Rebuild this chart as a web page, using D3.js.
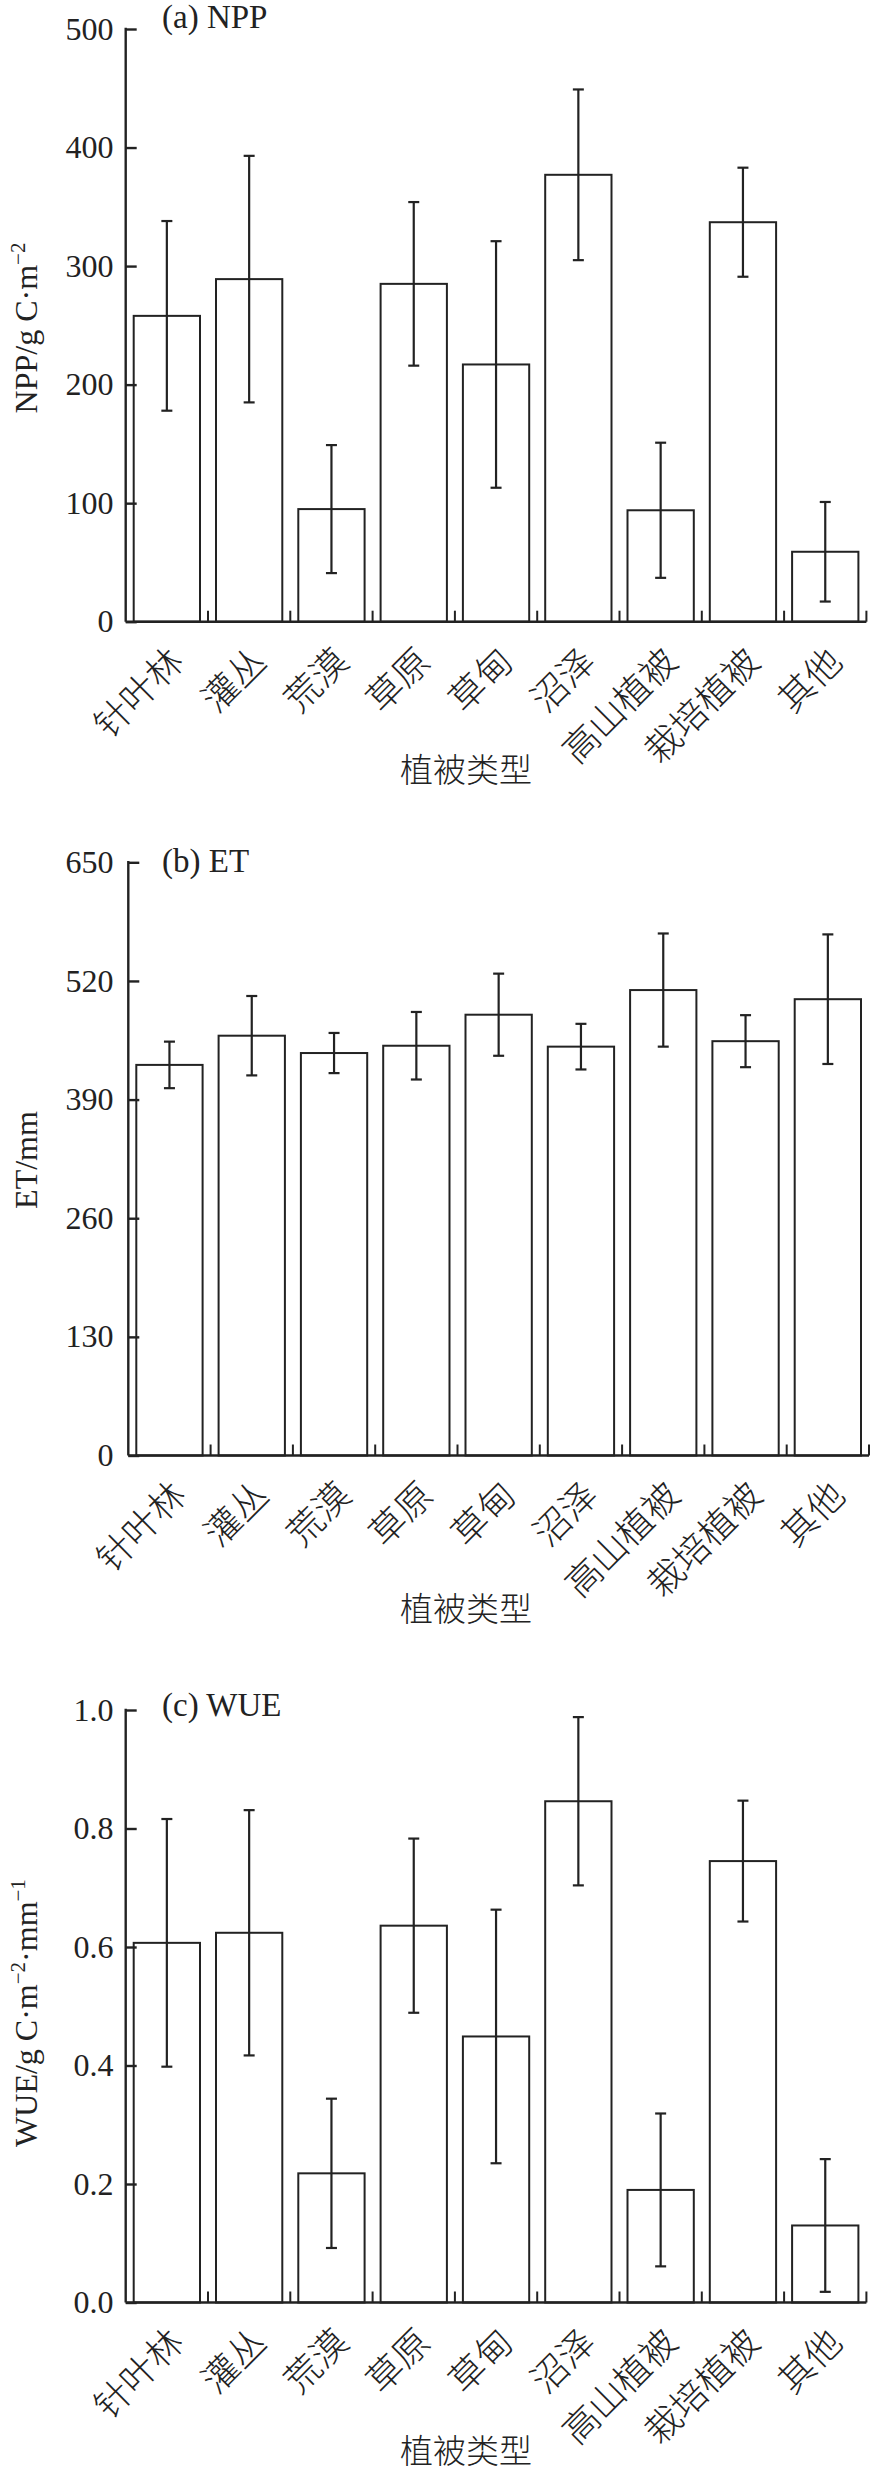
<!DOCTYPE html>
<html lang="zh">
<head>
<meta charset="UTF-8">
<title>植被类型 NPP ET WUE</title>
<script src="https://cdn.jsdelivr.net/npm/d3@7"></script>
<style>
  body { margin: 0; background: #fff; }
  text { font-family: "Liberation Serif", "Noto Sans CJK SC", serif; fill: #222; }
  .cjk { font-family: "Noto Sans CJK SC", sans-serif; font-weight: 300; }
</style>
</head>
<body>
<script>
// 植被类型
var categories = ['针叶林', '灌丛', '荒漠', '草原', '草甸', '沼泽', '高山植被', '栽培植被', '其他'];

// (a) NPP 均值和误差
var nppMean = [258, 289, 95, 285, 217, 377, 94, 337, 59];
var nppErr  = [80, 104, 54, 69, 104, 72, 57, 46, 42];
var nppTicks = [0, 100, 200, 300, 400, 500];

// (b) ET
var etMean = [428, 460, 441, 449, 483, 448, 510, 454, 500];
var etErr  = [25.5, 43.5, 22, 37, 45, 25, 62, 28.5, 71];
var etTicks = [0, 130, 260, 390, 520, 650];

// (c) WUE
var wueMean = [0.607, 0.624, 0.218, 0.636, 0.449, 0.846, 0.190, 0.745, 0.130];
var wueErr  = [0.209, 0.207, 0.126, 0.147, 0.214, 0.142, 0.129, 0.102, 0.112];
var wueTicks = [0, 0.2, 0.4, 0.6, 0.8, 1.0];

var width = 870, height = 2472;
var svg = d3.select('body').append('svg')
    .attr('width', width)
    .attr('height', height);

// 每个子图的位置
var panels = [
  {mean: nppMean, err: nppErr, ticks: nppTicks, max: 500, fmt: d3.format('d'),
   left: 125.7, top: 29, bottom: 621.7, title: '(a) NPP', titleY: 28,
   ylab: [['NPP/g C·m', 0], ['−2', 1]], ylabY: 328, xlabDy: 160},
  {mean: etMean, err: etErr, ticks: etTicks, max: 650, fmt: d3.format('d'),
   left: 128.3, top: 862.3, bottom: 1455.5, title: '(b) ET', titleY: 871.5,
   ylab: [['ET/mm', 0]], ylabY: 1160, xlabDy: 165},
  {mean: wueMean, err: wueErr, ticks: wueTicks, max: 1.0, fmt: d3.format('.1f'),
   left: 125.7, top: 1710, bottom: 2302.5, title: '(c) WUE', titleY: 1716,
   ylab: [['WUE/g C·m', 0], ['−2', 1], ['·mm', 0], ['−1', 1]], ylabY: 2013, xlabDy: 160}
];

var step = 82.3;
var barPad = 8;
var capW = 11;

panels.forEach(function (p) {
  var g = svg.append('g');

  var xScale = d3.scaleBand()
      .domain(categories)
      .range([p.left, p.left + step * categories.length]);
  var yScale = d3.scaleLinear()
      .domain([0, p.max])
      .range([p.bottom, p.top]);

  // 柱子
  g.selectAll('.bar')
      .data(categories)
      .enter()
      .append('rect')
      .attr('class', 'bar')
      .attr('x', function (d) { return xScale(d) + barPad; })
      .attr('y', function (d, i) { return yScale(p.mean[i]); })
      .attr('width', xScale.bandwidth() - 2 * barPad)
      .attr('height', function (d, i) { return p.bottom - yScale(p.mean[i]); })
      .attr('fill', '#fff')
      .attr('stroke', '#222')
      .attr('stroke-width', 2);

  // 误差线
  var eb = g.selectAll('.err')
      .data(categories)
      .enter()
      .append('g')
      .attr('class', 'err')
      .attr('stroke', '#222')
      .attr('stroke-width', 2.2);
  eb.append('line')
      .attr('x1', function (d) { return xScale(d) + xScale.bandwidth() / 2; })
      .attr('x2', function (d) { return xScale(d) + xScale.bandwidth() / 2; })
      .attr('y1', function (d, i) { return yScale(p.mean[i] + p.err[i]); })
      .attr('y2', function (d, i) { return yScale(p.mean[i] - p.err[i]); });
  [1, -1].forEach(function (s) {
    eb.append('line')
        .attr('x1', function (d) { return xScale(d) + xScale.bandwidth() / 2 - capW / 2; })
        .attr('x2', function (d) { return xScale(d) + xScale.bandwidth() / 2 + capW / 2; })
        .attr('y1', function (d, i) { return yScale(p.mean[i] + s * p.err[i]); })
        .attr('y2', function (d, i) { return yScale(p.mean[i] + s * p.err[i]); });
  });

  // Y轴：刻度向内
  var yAxis = d3.axisRight(yScale)
      .tickValues(p.ticks)
      .tickSize(11)
      .tickFormat('');
  var ya = g.append('g')
      .attr('transform', 'translate(' + p.left + ',0)')
      .call(yAxis);
  ya.select('.domain').remove();
  ya.selectAll('line').attr('stroke', '#222').attr('stroke-width', 2.4);
  g.append('line')
      .attr('x1', p.left).attr('x2', p.left)
      .attr('y1', p.top - 1.2).attr('y2', p.bottom)
      .attr('stroke', '#222').attr('stroke-width', 2.4);

  g.selectAll('.ytl')
      .data(p.ticks)
      .enter()
      .append('text')
      .attr('class', 'ytl')
      .attr('x', 113.5)
      .attr('y', function (d) { return yScale(d); })
      .attr('dy', '0.33em')
      .attr('text-anchor', 'end')
      .attr('font-size', 32)
      .text(p.fmt);

  // X轴：类别分界处向内的小刻度
  var bounds = d3.range(categories.length + 1).map(function (i) {
    return i < categories.length ? xScale(categories[i]) : xScale.range()[1];
  });
  g.append('line')
      .attr('x1', p.left).attr('x2', xScale.range()[1])
      .attr('y1', p.bottom).attr('y2', p.bottom)
      .attr('stroke', '#222').attr('stroke-width', 2.4);
  g.selectAll('.xt')
      .data(bounds.slice(1))
      .enter()
      .append('line')
      .attr('x1', function (d) { return d; })
      .attr('x2', function (d) { return d; })
      .attr('y1', p.bottom)
      .attr('y2', p.bottom - 11)
      .attr('stroke', '#222')
      .attr('stroke-width', 2);

  // 类别标签，旋转45度
  g.selectAll('.xtl')
      .data(categories)
      .enter()
      .append('text')
      .attr('class', 'xtl cjk')
      .attr('text-anchor', 'end')
      .attr('font-size', 36)
      .attr('transform', function (d) {
        return 'translate(' + (xScale(d) + xScale.bandwidth() / 2 + 19) + ',' + (p.bottom + 42) + ') rotate(-45)';
      })
      .text(function (d) { return d; });

  // 子图标题
  g.append('text')
      .attr('x', 162)
      .attr('y', p.titleY)
      .attr('font-size', 33)
      .text(p.title);

  // Y轴标题
  var yt = g.append('text')
      .attr('transform', 'translate(36.5,' + p.ylabY + ') rotate(-90)')
      .attr('text-anchor', 'middle')
      .attr('font-size', 32);
  p.ylab.forEach(function (part, k) {
    var ts = yt.append('tspan').text(part[0]);
    if (part[1]) {
      ts.attr('font-size', 21).attr('dy', -12);
    } else if (k > 0) {
      ts.attr('dy', 12);
    }
  });

  // X轴标题
  g.append('text')
      .attr('class', 'cjk')
      .attr('x', 466)
      .attr('y', p.bottom + p.xlabDy)
      .attr('text-anchor', 'middle')
      .attr('font-size', 33)
      .text('植被类型');
});
</script>
</body>
</html>
